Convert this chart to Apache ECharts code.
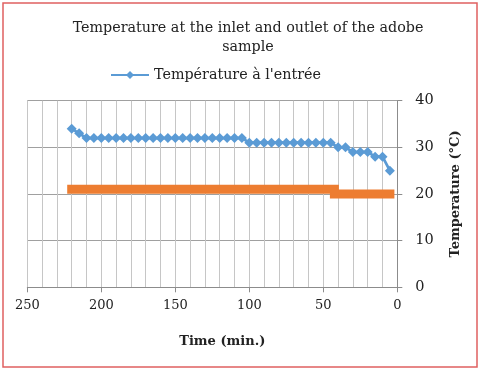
<!DOCTYPE html>
<html>
<head>
<meta charset="utf-8">
<script src="https://cdn.jsdelivr.net/npm/echarts@6/dist/echarts.min.js"></script>
<style>
html,body{margin:0;padding:0;background:#fff;}
#c{width:480px;height:370px;}
</style>
</head>
<body>
<div id="c"></div>
<script>
// Data
const inletTime = [220,215,210,205,200,195,190,185,180,175,170,165,160,155,150,145,140,135,130,125,120,115,110,105,100,95,90,85,80,75,70,65,60,55,50,45,40,35,30,25,20,15,10,5];
const inletTemp = [34,33,32,32,32,32,32,32,32,32,32,32,32,32,32,32,32,32,32,32,32,32,32,32,31,31,31,31,31,31,31,31,31,31,31,31,30,30,29,29,29,28,28,25];
const outletTime = [220,215,210,205,200,195,190,185,180,175,170,165,160,155,150,145,140,135,130,125,120,115,110,105,100,95,90,85,80,75,70,65,60,55,50,45,40,35,30,25,20,15,10,5];
const outletTemp = [21,21,21,21,21,21,21,21,21,21,21,21,21,21,21,21,21,21,21,21,21,21,21,21,21,21,21,21,21,21,21,21,21,21,21,21,20,20,20,20,20,20,20,20];
const titleText = 'Temperature at the inlet and outlet of the adobe\nsample';
const inletName = "Température à l'entrée";
const outletName = 'Température à la sortie';
const xName = 'Time (min.)';
const yName = 'Temperature (°C)';

const serif = 'DejaVu Serif';
const chart = echarts.init(document.getElementById('c'));
chart.setOption({
  animation: false,
  backgroundColor: '#fff',
  title: {
    text: titleText,
    left: 243, textAlign: 'center', top: 14,
    textStyle: {fontFamily: serif, fontSize: 14.3, fontWeight: 'normal', color: '#222', lineHeight: 19}
  },
  legend: {
    data: [{name: inletName}],
    left: 110, top: 68, padding: 0,
    itemWidth: 38, itemHeight: 10, itemGap: 5,
    textStyle: {fontFamily: serif, fontSize: 14.3, color: '#222'}
  },
  grid: {left: 27.3, right: 82.7, top: 100.7, bottom: 82.7},
  xAxis: {
    type: 'value', inverse: true, min: 0, max: 250, interval: 50,
    name: xName, nameLocation: 'middle', nameGap: 48,
    nameTextStyle: {fontFamily: serif, fontSize: 13, fontWeight: 'bold', color: '#222', padding: [0,0,0,20]},
    axisLine: {show: true, lineStyle: {color: '#8c8c8c'}},
    axisTick: {show: true, length: 5, lineStyle: {color: '#8c8c8c'}},
    minorTick: {show: false, splitNumber: 5},
    axisLabel: {fontFamily: serif, fontSize: 13, color: '#222', margin: 12},
    splitLine: {show: true, lineStyle: {color: '#c6c6c6', width: 1}},
    minorSplitLine: {show: true, lineStyle: {color: '#c6c6c6', width: 1}}
  },
  yAxis: {
    type: 'value', position: 'right', min: 0, max: 40, interval: 10,
    name: yName, nameLocation: 'middle', nameGap: 52, nameRotate: 90,
    nameTextStyle: {fontFamily: serif, fontSize: 13, fontWeight: 'bold', color: '#222'},
    axisLine: {show: true, lineStyle: {color: '#8c8c8c'}},
    axisTick: {show: true, length: 5, lineStyle: {color: '#8c8c8c'}},
    axisLabel: {fontFamily: serif, fontSize: 14.5, color: '#222', margin: 18},
    splitLine: {show: true, lineStyle: {color: '#a0a0a0', width: 1}}
  },
  series: [
    {
      name: outletName, type: 'line', step: 'middle',
      data: outletTime.map((t, i) => [t, outletTemp[i]]),
      showSymbol: false, symbol: 'none',
      lineStyle: {color: '#ED7D31', width: 9, cap: 'square', join: 'miter'},
      itemStyle: {color: '#ED7D31'},
      z: 2
    },
    {
      name: inletName, type: 'line',
      data: inletTime.map((t, i) => [t, inletTemp[i]]),
      symbol: 'diamond', symbolSize: 10,
      lineStyle: {color: '#5B9BD5', width: 2.75},
      itemStyle: {color: '#5B9BD5'},
      z: 3
    }
  ],
  graphic: [{
    type: 'rect', shape: {x: 3, y: 3, width: 474, height: 364},
    style: {fill: 'none', stroke: '#e06060', lineWidth: 1.5}, silent: true
  }]
});
</script>
</body>
</html>
